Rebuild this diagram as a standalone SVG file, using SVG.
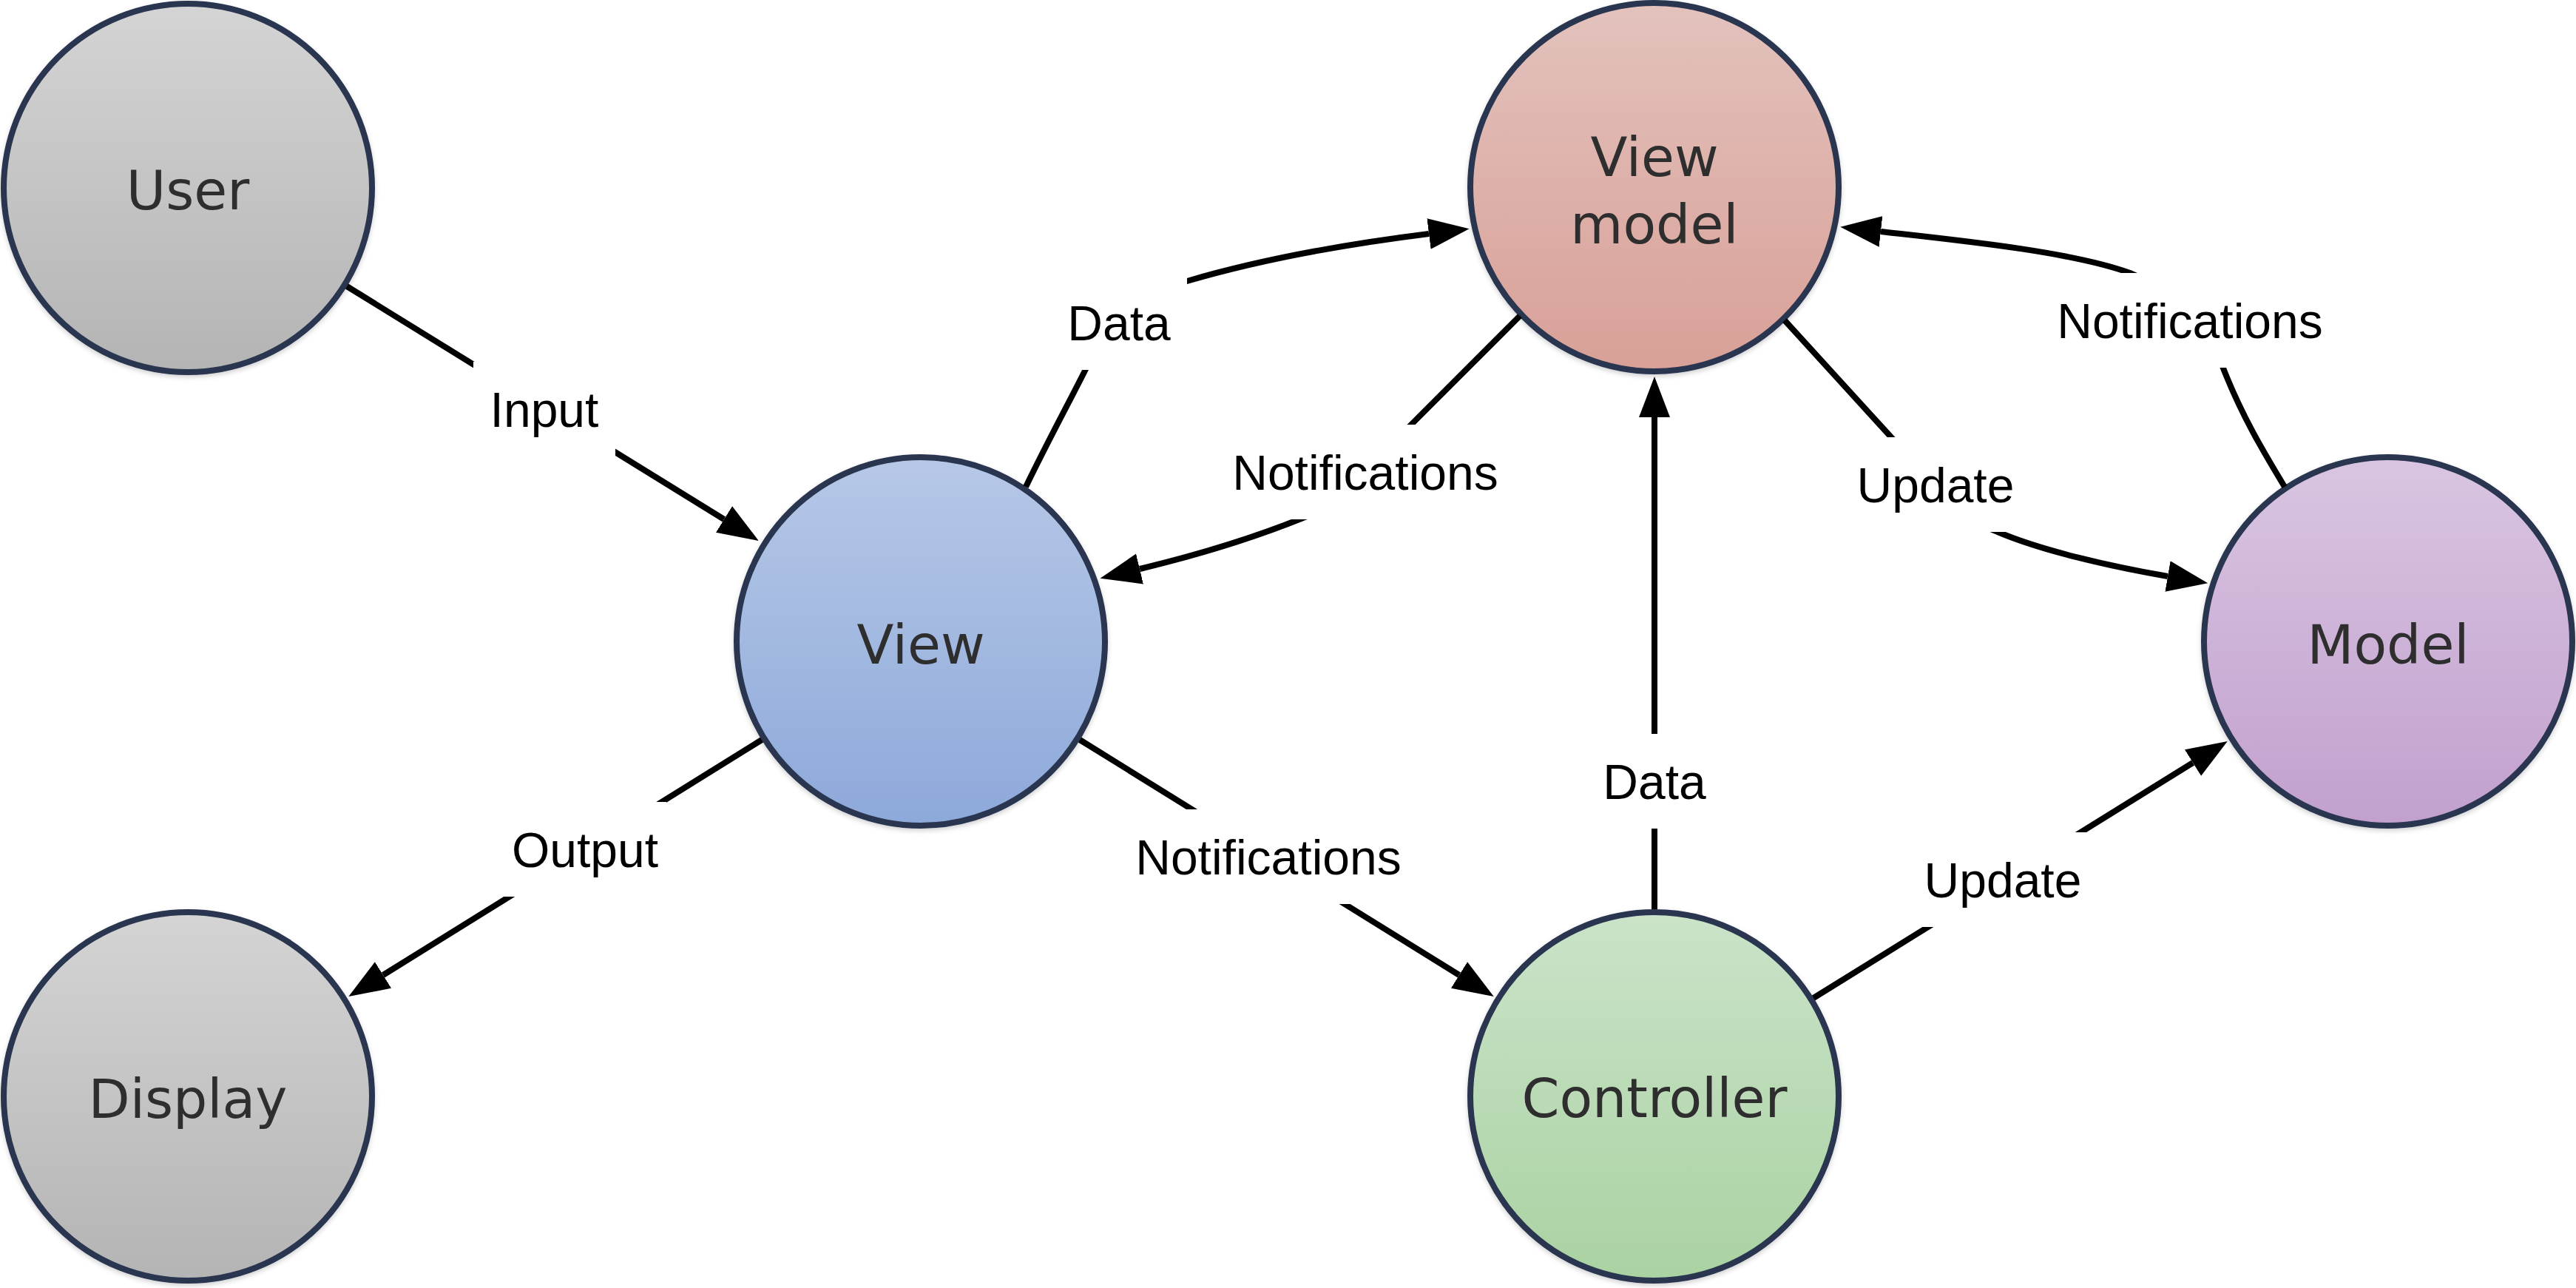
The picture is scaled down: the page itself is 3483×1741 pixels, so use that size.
<svg xmlns="http://www.w3.org/2000/svg" width="3483" height="1741" viewBox="0 0 3483 1741">
  <style>
    .node circle { stroke: #29344f; stroke-width: 8; filter: url(#shadow); }
    .node text { font-family: "DejaVu Sans", Verdana, sans-serif; font-size: 73px; fill: #2e2e2e; text-anchor: middle; }
    .edge { fill: none; stroke: #000; stroke-width: 8; }
    .arrow { marker-end: url(#ah); }
    .lbl rect { fill: #fff; }
    .lbl text { font-family: "Liberation Sans", Arial, sans-serif; font-size: 66px; fill: #000; text-anchor: middle; }
  </style>
  <defs>
    <marker id="ah" markerUnits="userSpaceOnUse" markerWidth="60" markerHeight="50" viewBox="0 -25 60 50" refX="0" refY="0" orient="auto">
      <path d="M0,-21 L55,0 L0,21 z" fill="#000"/>
    </marker>
    <filter id="shadow" x="-10%" y="-10%" width="120%" height="120%">
      <feDropShadow dx="0" dy="3" stdDeviation="3" flood-color="#000" flood-opacity="0.18"/>
    </filter>
    <linearGradient id="gGray" x1="0" y1="0" x2="0" y2="1">
      <stop offset="0" stop-color="#d4d4d4"/>
      <stop offset="1" stop-color="#b4b4b4"/>
    </linearGradient>
    <linearGradient id="gBlue" x1="0" y1="0" x2="0" y2="1">
      <stop offset="0" stop-color="#b7c8e7"/>
      <stop offset="1" stop-color="#8da9da"/>
    </linearGradient>
    <linearGradient id="gRed" x1="0" y1="0" x2="0" y2="1">
      <stop offset="0" stop-color="#e3c2bd"/>
      <stop offset="1" stop-color="#d8a097"/>
    </linearGradient>
    <linearGradient id="gGreen" x1="0" y1="0" x2="0" y2="1">
      <stop offset="0" stop-color="#cae3c9"/>
      <stop offset="1" stop-color="#aad2a2"/>
    </linearGradient>
    <linearGradient id="gPurple" x1="0" y1="0" x2="0" y2="1">
      <stop offset="0" stop-color="#d9c5e2"/>
      <stop offset="1" stop-color="#c2a0cd"/>
    </linearGradient>
  </defs>
  <rect x="0" y="0" width="3483" height="1741" fill="#fff"/>

  <g id="nodes">
    <g id="user" class="node">
      <circle cx="254" cy="254" r="249" fill="url(#gGray)"/>
      <text x="254" y="283">User</text>
    </g>
    <g id="display" class="node">
      <circle cx="254" cy="1482" r="249" fill="url(#gGray)"/>
      <text x="254" y="1511">Display</text>
    </g>
    <g id="view" class="node">
      <circle cx="1245" cy="867" r="249" fill="url(#gBlue)"/>
      <text x="1245" y="897" fill="#2a3142">View</text>
    </g>
    <g id="viewmodel" class="node">
      <circle cx="2237" cy="253" r="249" fill="url(#gRed)"/>
      <text x="2237" y="238">View</text>
      <text x="2237" y="329">model</text>
    </g>
    <g id="controller" class="node">
      <circle cx="2237" cy="1482" r="249" fill="url(#gGreen)"/>
      <text x="2237" y="1510">Controller</text>
    </g>
    <g id="model" class="node">
      <circle cx="3229" cy="867" r="249" fill="url(#gPurple)"/>
      <text x="3229" y="897">Model</text>
    </g>
  </g>

  <g id="connectors">
    <path class="edge arrow" d="M469,387 L979,702"/>
    <path class="edge arrow" d="M1030,1000 L518,1318"/>
    <path class="edge arrow" d="M1460,1000 L1973,1318"/>
    <path class="edge arrow" d="M2452,1349 L2965,1031"/>
    <path class="edge arrow" d="M2237,1229 L2237,564"/>
    <path class="edge arrow" d="M1387,658 C1420,590 1445,545 1468,499 C1500,430 1550,395 1605,380 C1700,352 1820,330 1932,316"/>
    <path class="edge arrow" d="M2055,427 L1907,575 C1860,622 1820,680 1762,700 C1700,725 1620,750 1541,769"/>
    <path class="edge arrow" d="M3089,658 C3060,610 3030,560 3005,495 C2980,430 2930,390 2880,369 C2800,340 2650,325 2543,313"/>
    <path class="edge arrow" d="M2413,433 L2558,592 C2600,640 2650,700 2701,719 C2760,744 2850,765 2931,779"/>

    <g class="lbl">
      <rect x="640" y="489" width="192" height="128"/>
      <text x="736" y="577">Input</text>
    </g>
    <g class="lbl">
      <rect x="1421" y="372" width="184" height="128"/>
      <text x="1513" y="460">Data</text>
    </g>
    <g class="lbl">
      <rect x="1644" y="574" width="404" height="128"/>
      <text x="1846" y="662">Notifications</text>
    </g>
    <g class="lbl">
      <rect x="2759" y="369" width="404" height="128"/>
      <text x="2961" y="457">Notifications</text>
    </g>
    <g class="lbl">
      <rect x="2490" y="591" width="254" height="128"/>
      <text x="2617" y="679">Update</text>
    </g>
    <g class="lbl">
      <rect x="2145" y="992" width="184" height="128"/>
      <text x="2237" y="1080">Data</text>
    </g>
    <g class="lbl">
      <rect x="2581" y="1125" width="254" height="128"/>
      <text x="2708" y="1213">Update</text>
    </g>
    <g class="lbl">
      <rect x="1513" y="1094" width="404" height="128"/>
      <text x="1715" y="1182">Notifications</text>
    </g>
    <g class="lbl">
      <rect x="681" y="1084" width="220" height="128"/>
      <text x="791" y="1172">Output</text>
    </g>
  </g>
</svg>
